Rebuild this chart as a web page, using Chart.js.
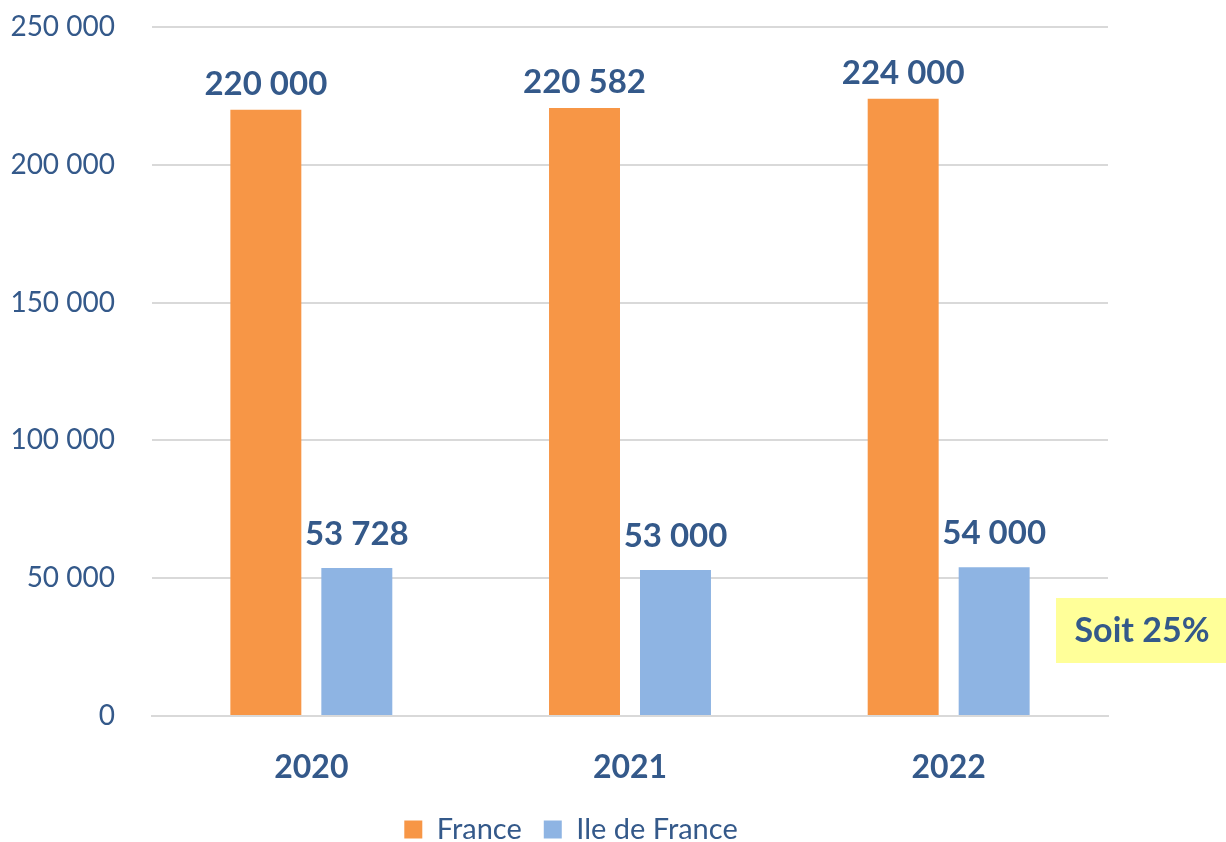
<!DOCTYPE html>
<html lang="fr">
<head>
  <meta charset="UTF-8">
  <title>France / Ile de France</title>
  <script src="https://cdn.jsdelivr.net/npm/chart.js@4.4.0/dist/chart.umd.min.js"></script>
  <style>
    html, body { margin: 0; padding: 0; background: #fff; }
    #wrap { width: 1226px; height: 842px; }
  </style>
</head>
<body>
  <div id="wrap"><canvas id="mychart" width="1226" height="842"></canvas></div>

  <script type="text/javascript">
    const years = ['2020', '2021', '2022'];
    const france = [220000, 220582, 224000];
    const ileDeFrance = [53728, 53000, 54000];
    const yTicks = [0, 50000, 100000, 150000, 200000, 250000];

    const textBlue = '#34598A';
    const fontName = 'Lato, "Open Sans", sans-serif';

    function fmt(v) {
      return String(v).replace(/\B(?=(\d{3})+(?!\d))/g, ' ');
    }

    // y tick labels, right aligned a fixed distance left of the grid
    const yLabels = {
      id: 'yLabels',
      afterDraw(chart) {
        const ctx = chart.ctx;
        const y = chart.scales.y;
        ctx.save();
        ctx.font = '28px ' + fontName;
        ctx.fillStyle = textBlue;
        ctx.textAlign = 'right';
        ctx.textBaseline = 'middle';
        yTicks.forEach(v => {
          ctx.fillText(fmt(v), chart.chartArea.left - 37, y.getPixelForValue(v));
        });
        ctx.restore();
      }
    };

    // values above each bar (the blue ones sit a little higher)
    const labelGap = [9, 17];
    const barLabels = {
      id: 'barLabels',
      afterDatasetsDraw(chart) {
        const ctx = chart.ctx;
        ctx.save();
        ctx.font = 'bold 33px ' + fontName;
        ctx.fillStyle = textBlue;
        ctx.textAlign = 'center';
        ctx.textBaseline = 'bottom';
        chart.data.datasets.forEach((ds, i) => {
          chart.getDatasetMeta(i).data.forEach((bar, j) => {
            ctx.fillText(fmt(ds.data[j]), bar.x, bar.y - labelGap[i]);
          });
        });
        ctx.restore();
      }
    };

    // legend sits a bit right of the centre in the original
    const legendShift = {
      id: 'legendShift',
      afterLayout(chart) {
        chart.legend.left += 17;
        chart.legend.right += 17;
      }
    };

    // yellow "Soit 25%" note on the right
    const note = {
      id: 'note',
      afterDraw(chart) {
        const ctx = chart.ctx;
        ctx.save();
        ctx.fillStyle = '#FFFF99';
        ctx.fillRect(1056, 598, 170, 65);
        ctx.font = 'bold 34px ' + fontName;
        ctx.fillStyle = textBlue;
        ctx.textAlign = 'center';
        ctx.textBaseline = 'middle';
        ctx.fillText('Soit 25%', 1142, 631);
        ctx.restore();
      }
    };

    const data = {
      labels: years,
      datasets: [{
        label: 'France',
        data: france,
        backgroundColor: '#F79646'
      }, {
        label: 'Ile de France',
        data: ileDeFrance,
        backgroundColor: '#8EB4E3'
      }]
    };

    const config = {
      type: 'bar',
      data: data,
      options: {
        responsive: false,
        animation: false,
        devicePixelRatio: 1,
        layout: { padding: { top: 27, right: 118, left: 0, bottom: -12 } },
        datasets: {
          bar: { categoryPercentage: 0.571, barPercentage: 0.78 }
        },
        scales: {
          x: {
            grid: { display: false, drawTicks: false },
            border: { display: true, color: '#D9D9D9', width: 2 },
            afterFit(scale) { scale.height = 77; },
            ticks: {
              color: textBlue,
              padding: 32,
              font: { family: fontName, size: 32, weight: 'bold' }
            }
          },
          y: {
            min: 0,
            max: 250000,
            afterFit(scale) { scale.width = 152; },
            afterBuildTicks(scale) { scale.ticks = yTicks.map(v => ({ value: v })); },
            grid: { color: '#D9D9D9', lineWidth: 2, drawTicks: false },
            border: { display: false },
            ticks: { display: false }
          }
        },
        plugins: {
          legend: {
            position: 'bottom',
            labels: {
              color: textBlue,
              boxWidth: 18,
              boxHeight: 18,
              padding: 22,
              font: { family: fontName, size: 29 }
            }
          },
          tooltip: { enabled: false }
        }
      },
      plugins: [yLabels, barLabels, legendShift, note]
    };

    new Chart(document.getElementById('mychart'), config);
  </script>
</body>
</html>
